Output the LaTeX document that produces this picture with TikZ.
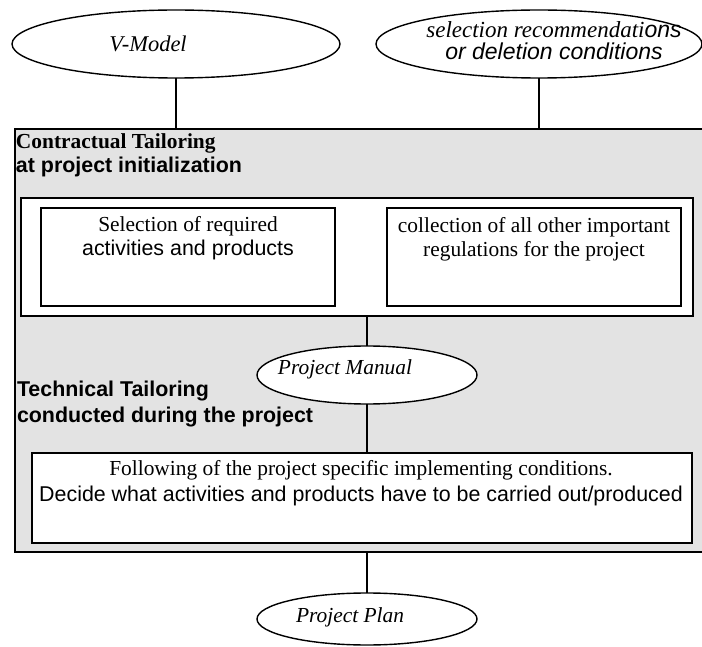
\documentclass[tikz,border=0pt]{standalone}
\usepackage{fontspec}
\setmainfont{Liberation Serif}
\setsansfont{Liberation Sans}
\usetikzlibrary{shapes.geometric}
\definecolor{panelgray}{HTML}{E3E3E3}

\begin{document}
\begin{tikzpicture}[x=1pt,y=-1pt,
  every node/.style={inner sep=0pt,outer sep=0pt},
  frame/.style={draw=black,line width=1.8pt,anchor=north west},
  doc/.style={ellipse,draw=black,line width=1.4pt,fill=white},
  link/.style={draw=black,line width=1.4pt},
  txt/.style={font=\fontsize{21.4}{24}\selectfont},
  doctxt/.style={font=\fontsize{21.4}{24}\selectfont\itshape}]
\clip (0,0) rectangle (702,647);

% tailoring panel (runs past the right margin)
\node[frame,fill=panelgray,minimum width=700pt,minimum height=423pt] (tailoring) at (15,129) {};

% contractual tailoring boxes
\node[frame,fill=white,minimum width=672pt,minimum height=118pt] (contract) at (21,198) {};
\node[frame,fill=white,minimum width=294pt,minimum height=98pt] (required) at (41,208) {};
\node[frame,fill=white,minimum width=294pt,minimum height=98pt] (regulations) at (387,208) {};

% technical tailoring box
\node[frame,fill=white,minimum width=660pt,minimum height=90pt] (technical) at (32,453) {};

% documents
\node[doc,minimum width=328pt,minimum height=68pt] (vmodel) at (176,44) {};
\node[doc,minimum width=326pt,minimum height=68pt] (selection) at (539,44) {};
\node[doc,minimum width=220pt,minimum height=58pt] (manual) at (367,375) {};
\node[doc,minimum width=220pt,minimum height=52pt] (plan) at (367,619) {};

% document labels
\node[doctxt,font=\fontsize{22.5}{24}\selectfont\itshape] (vmodeltext) at (148,44) {V-Model};
\node[txt,font=\fontsize{23}{22}\selectfont,align=center] (selectiontext) at (554,41)
  {\itshape selection recommendati{\sffamily ons}\\
   \sffamily\itshape or deletion conditions};
\node[doctxt] (manualtext) at (345,369) {Project Manual};
\node[doctxt] (plantext) at (350,617) {Project Plan};

% panel headings
\node[txt,anchor=base west] (contracthead1) at (16,149) {\bfseries Contractual Tailoring};
\node[txt,anchor=base west] (contracthead2) at (16,173) {\sffamily\bfseries at project initialization};
\node[txt,anchor=base west] (techhead1) at (17,396) {\sffamily\bfseries Technical Tailoring};
\node[txt,anchor=base west] (techhead2) at (17,422) {\sffamily\bfseries conducted during the project};

% box texts (base anchor sits on the last line)
\node[txt,align=center,anchor=base] (requiredtext) at (188,256)
  {Selection of required\\ \sffamily activities and products};
\node[txt,align=center,anchor=base] (regulationstext) at (534,257)
  {collection of all other important\\ regulations for the project};
\node[txt,align=center,anchor=base] (technicaltext) at (361,501)
  {Following of the project specific implementing conditions.\\[2pt]
   \sffamily Decide what activities and products have to be carried out/produced};

% connectors
\draw[link] (vmodel.south) -- (vmodel.south |- tailoring.north);
\draw[link] (selection.south) -- (selection.south |- tailoring.north);
\draw[link] (manual.north) -- (manual.north |- contract.south);
\draw[link] (manual.south) -- (manual.south |- technical.north);
\draw[link] (plan.north) -- (plan.north |- tailoring.south);
\end{tikzpicture}
\end{document}
